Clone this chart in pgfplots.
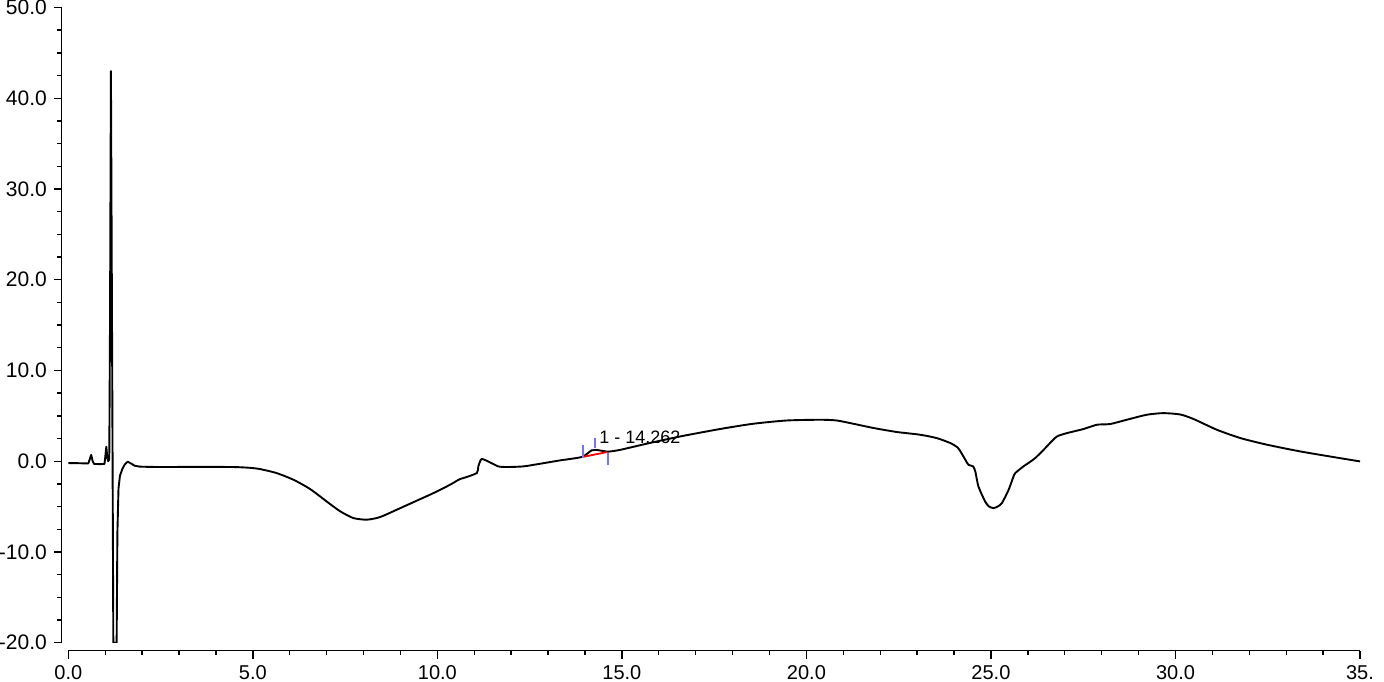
\documentclass[border=0pt]{standalone}
\usepackage{fontspec}
\setmainfont{Liberation Sans}
\usepackage{pgfplots}
\pgfplotsset{compat=1.18}
\begin{document}
\begin{tikzpicture}
\begin{axis}[
  at={(0,0)}, anchor=south west,
  scale only axis,
  width=645.85pt, height=317.6pt,
  xmin=0, xmax=35, ymin=-20, ymax=50,
  axis x line*=bottom, axis y line*=left,
  axis x line shift=4pt, axis y line shift=3.3pt,
  axis line style={black, line width=0.75pt},
  tick align=outside,
  major tick length=3.9pt,
  minor tick length=2.2pt,
  xtick={0,5,...,35},
  xticklabels={0.0,5.0,10.0,15.0,20.0,25.0,30.0,35.},
  minor x tick num=4,
  ytick={-20,-10,...,50},
  yticklabels={-20.0,-10.0,0.0,10.0,20.0,30.0,40.0,50.0},
  minor y tick num=3,
  every tick/.style={black, line width=0.7pt},
  xticklabel style={font=\fontsize{10}{12}\selectfont},
  yticklabel style={font=\fontsize{10.5}{12}\selectfont},
]
% injection region (sharp)
\addplot[black, line width=0.95pt, line join=round] coordinates {
(0.00,-0.20) (0.30,-0.22) (0.54,-0.25) (0.58,0.2) (0.62,0.70) (0.66,0.0) (0.70,-0.30)
(0.85,-0.32) (0.98,-0.30) (1.00,0.4) (1.03,1.60) (1.06,0.3) (1.08,0.0) (1.11,0.2)
(1.13,15) (1.155,43.0) (1.19,10) (1.22,-20.0) (1.31,-20.0) (1.33,-8) (1.36,-3.0)
(1.40,-1.6) (1.46,-0.9) (1.53,-0.35) (1.61,-0.05) (1.70,-0.25) (1.80,-0.5) (1.94,-0.60)
};
% rest of the chromatogram
\addplot[black, line width=0.95pt, smooth, tension=0.4] coordinates {
(1.94,-0.60)
(2.5,-0.64) (3.5,-0.62) (4.47,-0.64) (4.9,-0.72) (5.19,-0.86) (5.64,-1.3) (6.10,-2.04)
(6.55,-3.06) (7.00,-4.43) (7.36,-5.50) (7.72,-6.26) (8.09,-6.44) (8.45,-6.15) (9.00,-5.16)
(9.44,-4.35) (9.90,-3.50) (10.34,-2.60) (10.55,-2.10) (10.62,-1.95) (10.71,-1.85)
(11.07,-1.30) (11.11,-0.57) (11.20,0.24) (11.43,-0.13) (11.65,-0.57) (11.88,-0.64)
(12.33,-0.57) (12.78,-0.28) (13.32,0.09) (13.60,0.25) (13.94,0.50) (14.18,1.20)
(14.30,1.25) (14.50,1.12) (14.62,1.05) (14.95,1.25) (15.67,1.93) (16.58,2.73)
(17.66,3.55) (18.56,4.13) (19.47,4.49) (20.37,4.57) (20.82,4.49) (21.27,4.13)
(21.82,3.66) (22.45,3.22) (23.08,2.92) (23.53,2.55) (23.90,2.0) (24.10,1.5)
(24.20,0.9) (24.30,0.2) (24.39,-0.39) (24.52,-0.57) (24.58,-1.2) (24.66,-2.77)
(24.84,-4.43) (24.95,-5.0) (25.07,-5.16) (25.18,-5.0) (25.30,-4.6) (25.48,-3.14)
(25.60,-1.8) (25.66,-1.3) (25.88,-0.57) (26.05,-0.1) (26.20,0.35) (26.43,1.27)
(26.60,2.0) (26.79,2.73) (27.06,3.10) (27.51,3.55) (27.87,4.02) (28.23,4.10)
(28.68,4.57) (29.22,5.12) (29.67,5.30) (30.13,5.15) (30.49,4.65) (31.12,3.47)
(31.76,2.55) (32.48,1.82) (33.38,1.08) (34.28,0.46) (35.00,-0.02)
};
\addplot[red, line width=0.9pt] coordinates {(13.93,0.46) (14.60,1.01)};
\addplot[blue!55!white, line width=1pt] coordinates {(13.94,0.35) (13.94,1.8)};
\addplot[blue!55!white, line width=1pt] coordinates {(14.27,1.45) (14.27,2.55)};
\addplot[blue!55!white, line width=1pt] coordinates {(14.62,-0.39) (14.62,0.9)};
\node[anchor=base west, inner sep=0pt, font=\fontsize{9}{10}\selectfont] at (axis cs:14.38,1.95) {1 - 14.262};
\end{axis}
\pgfresetboundingbox
\path[use as bounding box] (-34.15pt,-19.15pt) rectangle (657.85pt,321.35pt);
\end{tikzpicture}
\end{document}
